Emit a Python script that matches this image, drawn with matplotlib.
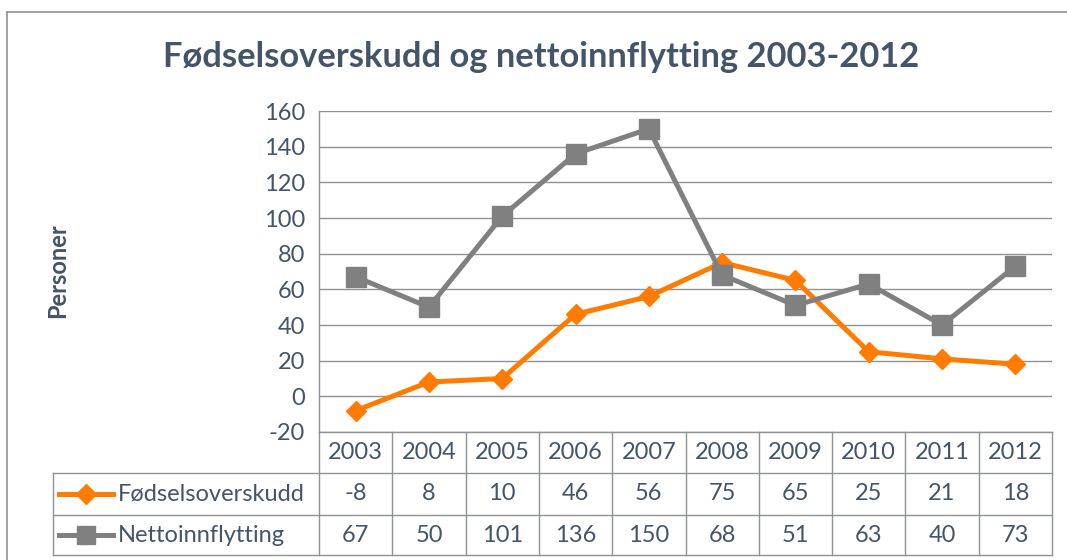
import matplotlib.pyplot as plt
import matplotlib.transforms as mtransforms
from matplotlib.lines import Line2D

# data
years = ["2003", "2004", "2005", "2006", "2007", "2008", "2009", "2010", "2011", "2012"]
fodsel = [-8, 8, 10, 46, 56, 75, 65, 25, 21, 18]
netto = [67, 50, 101, 136, 150, 68, 51, 63, 40, 73]
series_names = ["Fødselsoverskudd", "Nettoinnflytting"]
yticks = [-20, 0, 20, 40, 60, 80, 100, 120, 140, 160]

W, H = 1067, 560
txt = "#44546A"
grid_c = "#8E9196"
orange = "#FF7C00"
gray = "#808080"
fs = 17

plt.rcParams["font.family"] = ["Lato", "DejaVu Sans"]

fig = plt.figure(figsize=(W / 100, H / 100), dpi=100)

# plot area in pixels
left, right, top, bottom = 319, 1052, 111, 432
ax = fig.add_axes([left / W, 1 - bottom / H, (right - left) / W, (bottom - top) / H])

x = list(range(len(years)))
ax.plot(x, fodsel, color=orange, lw=3.6, marker="D", ms=10.5, label=series_names[0], clip_on=False)
ax.plot(x, netto, color=gray, lw=3.6, marker="s", ms=14, label=series_names[1], clip_on=False)

ax.set_xlim(-0.5, len(years) - 0.5)
ax.set_ylim(-20, 160)
ax.set_yticks(yticks)
ax.set_yticklabels([str(v) for v in yticks], fontsize=fs, color=txt)
ax.set_xticks([])
ax.tick_params(axis="y", length=0, pad=10)
ax.grid(axis="y", color=grid_c, lw=1)
ax.set_axisbelow(True)
for s in ["top", "right", "bottom"]:
    ax.spines[s].set_visible(False)
ax.spines["left"].set_color(grid_c)
ax.spines["left"].set_linewidth(1)

fig.text(58 / W, 1 - 271 / H, "Personer", rotation=90, ha="center", va="center",
         fontsize=17, fontweight="bold", color=txt)

fig.text(541 / W, 1 - 57 / H, "Fødselsoverskudd og nettoinnflytting 2003-2012",
         ha="center", va="center", fontsize=24.8, fontweight="bold", color=txt)

# data table below the axis
tr = mtransforms.blended_transform_factory(ax.transData, ax.transAxes)
ph = bottom - top
rows_px = [432, 473, 515, 555]
ry = [(bottom - p) / ph for p in rows_px]
lab_left = (53 - left) / (right - left)

def hline(x0, x1, y, transform):
    ax.add_line(Line2D([x0, x1], [y, y], transform=transform, color=grid_c, lw=1, clip_on=False))

def vline(xv, y0, y1, transform):
    ax.add_line(Line2D([xv, xv], [y0, y1], transform=transform, color=grid_c, lw=1, clip_on=False))

hline(0, 1, ry[0], ax.transAxes)
for yv in ry[1:]:
    hline(lab_left, 1, yv, ax.transAxes)
vline(lab_left, ry[1], ry[3], ax.transAxes)
vline(0, ry[0], ry[3], ax.transAxes)
for i in range(len(years)):
    vline(i + 0.5, ry[0], ry[3], tr)

for i, yr in enumerate(years):
    ax.text(i, (ry[0] + ry[1]) / 2, yr, transform=tr, ha="center", va="center",
            fontsize=fs, color=txt)

table_rows = [fodsel, netto]
styles = [(orange, "D", 10), (gray, "s", 13)]
for r, vals in enumerate(table_rows):
    yc = (ry[r + 1] + ry[r + 2]) / 2
    for i, v in enumerate(vals):
        ax.text(i, yc, str(v), transform=tr, ha="center", va="center",
                fontsize=fs, color=txt)
    c, m, ms = styles[r]
    lx0 = (59 - left) / (right - left)
    lx1 = (113 - left) / (right - left)
    ax.add_line(Line2D([lx0, lx1], [yc, yc], transform=ax.transAxes, color=c, lw=3.6,
                       clip_on=False))
    ax.add_line(Line2D([(lx0 + lx1) / 2], [yc], transform=ax.transAxes, color=c,
                       marker=m, ms=ms, clip_on=False))
    ax.text((118 - left) / (right - left), yc, series_names[r], transform=ax.transAxes,
            ha="left", va="center", fontsize=fs, color=txt)

# chart frame (runs off the right and bottom edges)
fig.add_artist(Line2D([7 / W, 7 / W], [0, 1 - 12 / H], transform=fig.transFigure,
                      color=grid_c, lw=1.2))
fig.add_artist(Line2D([7 / W, 1], [1 - 12 / H, 1 - 12 / H], transform=fig.transFigure,
                      color=grid_c, lw=1.2))

fig.savefig("out.png", dpi=100)
